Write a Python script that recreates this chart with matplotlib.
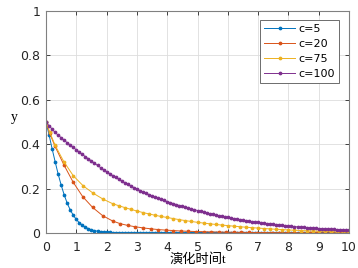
import numpy as np
import matplotlib
matplotlib.use("Agg")
import matplotlib.pyplot as plt

# time grid of the fine solutions (c=5, c=100)
t_fine = np.linspace(0, 10, 101)

y_c5 = [0.500, 0.443, 0.380, 0.322, 0.266, 0.216, 0.172, 0.134, 0.104, 0.080,
        0.061, 0.046, 0.035, 0.026, 0.0195, 0.0145, 0.0108, 0.008, 0.0059, 0.0044,
        0.0032, 0.0024, 0.0018, 0.0013, 0.001, 0.0007, 0.0005, 0.0004, 0.0003, 0.0002,
        0.0002, 0.0001, 0.0001, 0.0001, 0.0001, 0.0001, 0.0, 0.0, 0.0, 0.0,
        0.0, 0.0, 0.0, 0.0, 0.0, 0.0, 0.0, 0.0, 0.0, 0.0,
        0.0, 0.0, 0.0, 0.0, 0.0, 0.0, 0.0, 0.0, 0.0, 0.0,
        0.0, 0.0, 0.0, 0.0, 0.0, 0.0, 0.0, 0.0, 0.0, 0.0,
        0.0, 0.0, 0.0, 0.0, 0.0, 0.0, 0.0, 0.0, 0.0, 0.0,
        0.0, 0.0, 0.0, 0.0, 0.0, 0.0, 0.0, 0.0, 0.0, 0.0,
        0.0, 0.0, 0.0, 0.0, 0.0, 0.0, 0.0, 0.0, 0.0, 0.0,
        0.0]

y_c100 = [0.5, 0.4838, 0.4681, 0.4529, 0.4408, 0.4291, 0.4177, 0.4066, 0.3958, 0.3852,
          0.3749, 0.3642, 0.3538, 0.3437, 0.3339, 0.3244, 0.3142, 0.3043, 0.2947, 0.2854,
          0.2764, 0.2673, 0.2585, 0.2500, 0.2418, 0.2338, 0.2261, 0.2187, 0.2115, 0.2045,
          0.1978, 0.1913, 0.1850, 0.1789, 0.1730, 0.1673, 0.1618, 0.1565, 0.1513, 0.1464,
          0.1415, 0.1369, 0.1324, 0.1280, 0.1238, 0.1197, 0.1158, 0.1120, 0.1083, 0.1047,
          0.1013, 0.0976, 0.0940, 0.0906, 0.0873, 0.0842, 0.0811, 0.0782, 0.0753, 0.0726,
          0.0699, 0.0673, 0.0647, 0.0623, 0.0599, 0.0576, 0.0554, 0.0533, 0.0513, 0.0493,
          0.0475, 0.0456, 0.0438, 0.0420, 0.0403, 0.0387, 0.0372, 0.0357, 0.0342, 0.0329,
          0.0315, 0.0301, 0.0288, 0.0276, 0.0263, 0.0252, 0.0241, 0.0230, 0.0220, 0.0211,
          0.0201, 0.0192, 0.0183, 0.0174, 0.0166, 0.0158, 0.0151, 0.0144, 0.0137, 0.0131,
          0.0125]

# c=20 solution
t_c20 = [0, 0.12, 0.3, 0.59, 0.9, 1.21, 1.54, 1.87, 2.2, 2.45, 2.7, 2.95, 3.2, 3.45,
         3.7, 3.95, 4.2, 4.45, 4.7, 4.95, 5.2, 5.45, 5.7, 5.95, 6.2, 6.45, 6.7, 6.95,
         7.2, 7.45, 7.7, 7.95, 8.2, 8.45, 8.7, 8.95, 9.2, 9.45, 9.7, 10]
y_c20 = [0.5, 0.45, 0.39, 0.307, 0.228, 0.164, 0.115, 0.078, 0.054, 0.042, 0.034, 0.028,
         0.023, 0.019, 0.0155, 0.013, 0.011, 0.009, 0.0077, 0.0066, 0.0057, 0.0049,
         0.0043, 0.0037, 0.0032, 0.0028, 0.0025, 0.0022, 0.0019, 0.0017, 0.0015, 0.0013,
         0.0012, 0.0011, 0.001, 0.0009, 0.0008, 0.0007, 0.0007, 0.0006]

# c=75 solution
t_c75 = [0, 0.12, 0.3, 0.59, 0.9, 1.23, 1.56, 1.89, 2.2, 2.4, 2.6, 2.8, 3.0, 3.2, 3.4,
         3.6, 3.8, 4.0, 4.2, 4.4, 4.6, 4.8, 5.0, 5.2, 5.4, 5.6, 5.8, 6.0, 6.2, 6.4, 6.6,
         6.8, 7.0, 7.2, 7.4, 7.6, 7.8, 8.0, 8.2, 8.4, 8.6, 8.8, 9.0, 9.2, 9.4, 9.6, 9.8, 10]
y_c75 = [0.5, 0.455, 0.395, 0.321, 0.258, 0.212, 0.179, 0.152, 0.132, 0.123, 0.1145,
         0.1065, 0.099, 0.0922, 0.0858, 0.0799, 0.0744, 0.070, 0.0649, 0.0602, 0.0558,
         0.0518, 0.0480, 0.0446, 0.0415, 0.0385, 0.0358, 0.0333, 0.0307, 0.0283, 0.0261,
         0.0240, 0.0222, 0.0202, 0.0184, 0.0168, 0.0153, 0.0139, 0.0125, 0.0112, 0.0100,
         0.0090, 0.0080, 0.0070, 0.0062, 0.0054, 0.0047, 0.0042]

labels = ['c=5', 'c=20', 'c=75', 'c=100']
colors = ['#0072BD', '#D95319', '#EDB120', '#7E2F8E']

fig = plt.figure(figsize=(3.58, 2.68), dpi=100)
ax = fig.add_axes([0.1285, 0.1306, 0.8464, 0.8284])

series = [(t_fine, y_c5), (t_c20, y_c20), (t_c75, y_c75), (t_fine, y_c100)]
for (t, y), lab, col in zip(series, labels, colors):
    ax.plot(t, y, color=col, lw=0.7, marker='.', ms=3.4, label=lab)

ax.set_xlim(0, 10)
ax.set_ylim(0, 1)
ax.set_xticks(range(0, 11))
ax.set_yticks([0, 0.2, 0.4, 0.6, 0.8, 1])
ax.set_yticklabels(['0', '0.2', '0.4', '0.6', '0.8', '1'])
ax.grid(True, color='#dddddd', lw=0.6)
ax.set_axisbelow(True)
ax.tick_params(direction='in', length=3, width=0.6, top=True, right=True,
               labelsize=9, colors='#262626')
ax.tick_params(axis='x', pad=6)
ax.tick_params(axis='y', pad=4)
for s in ax.spines.values():
    s.set_color('#808080')
    s.set_linewidth(0.8)

serif_cjk = ['Liberation Serif', 'Noto Sans CJK SC']
ax.set_xlabel('演化时间t', family=serif_cjk, fontsize=9.5, labelpad=-1)
ax.set_ylabel('y', family=serif_cjk, fontsize=10, rotation=0)
ax.yaxis.set_label_coords(-0.105, 0.49)

leg = ax.legend(loc='upper right', bbox_to_anchor=(0.967, 0.959), borderaxespad=0,
                fontsize=8, fancybox=False, framealpha=1, edgecolor='#555555',
                handlelength=2.8, handletextpad=0.3, borderpad=0.35, labelspacing=0.45)
leg.get_frame().set_linewidth(0.6)

fig.savefig('out.png', dpi=100)
